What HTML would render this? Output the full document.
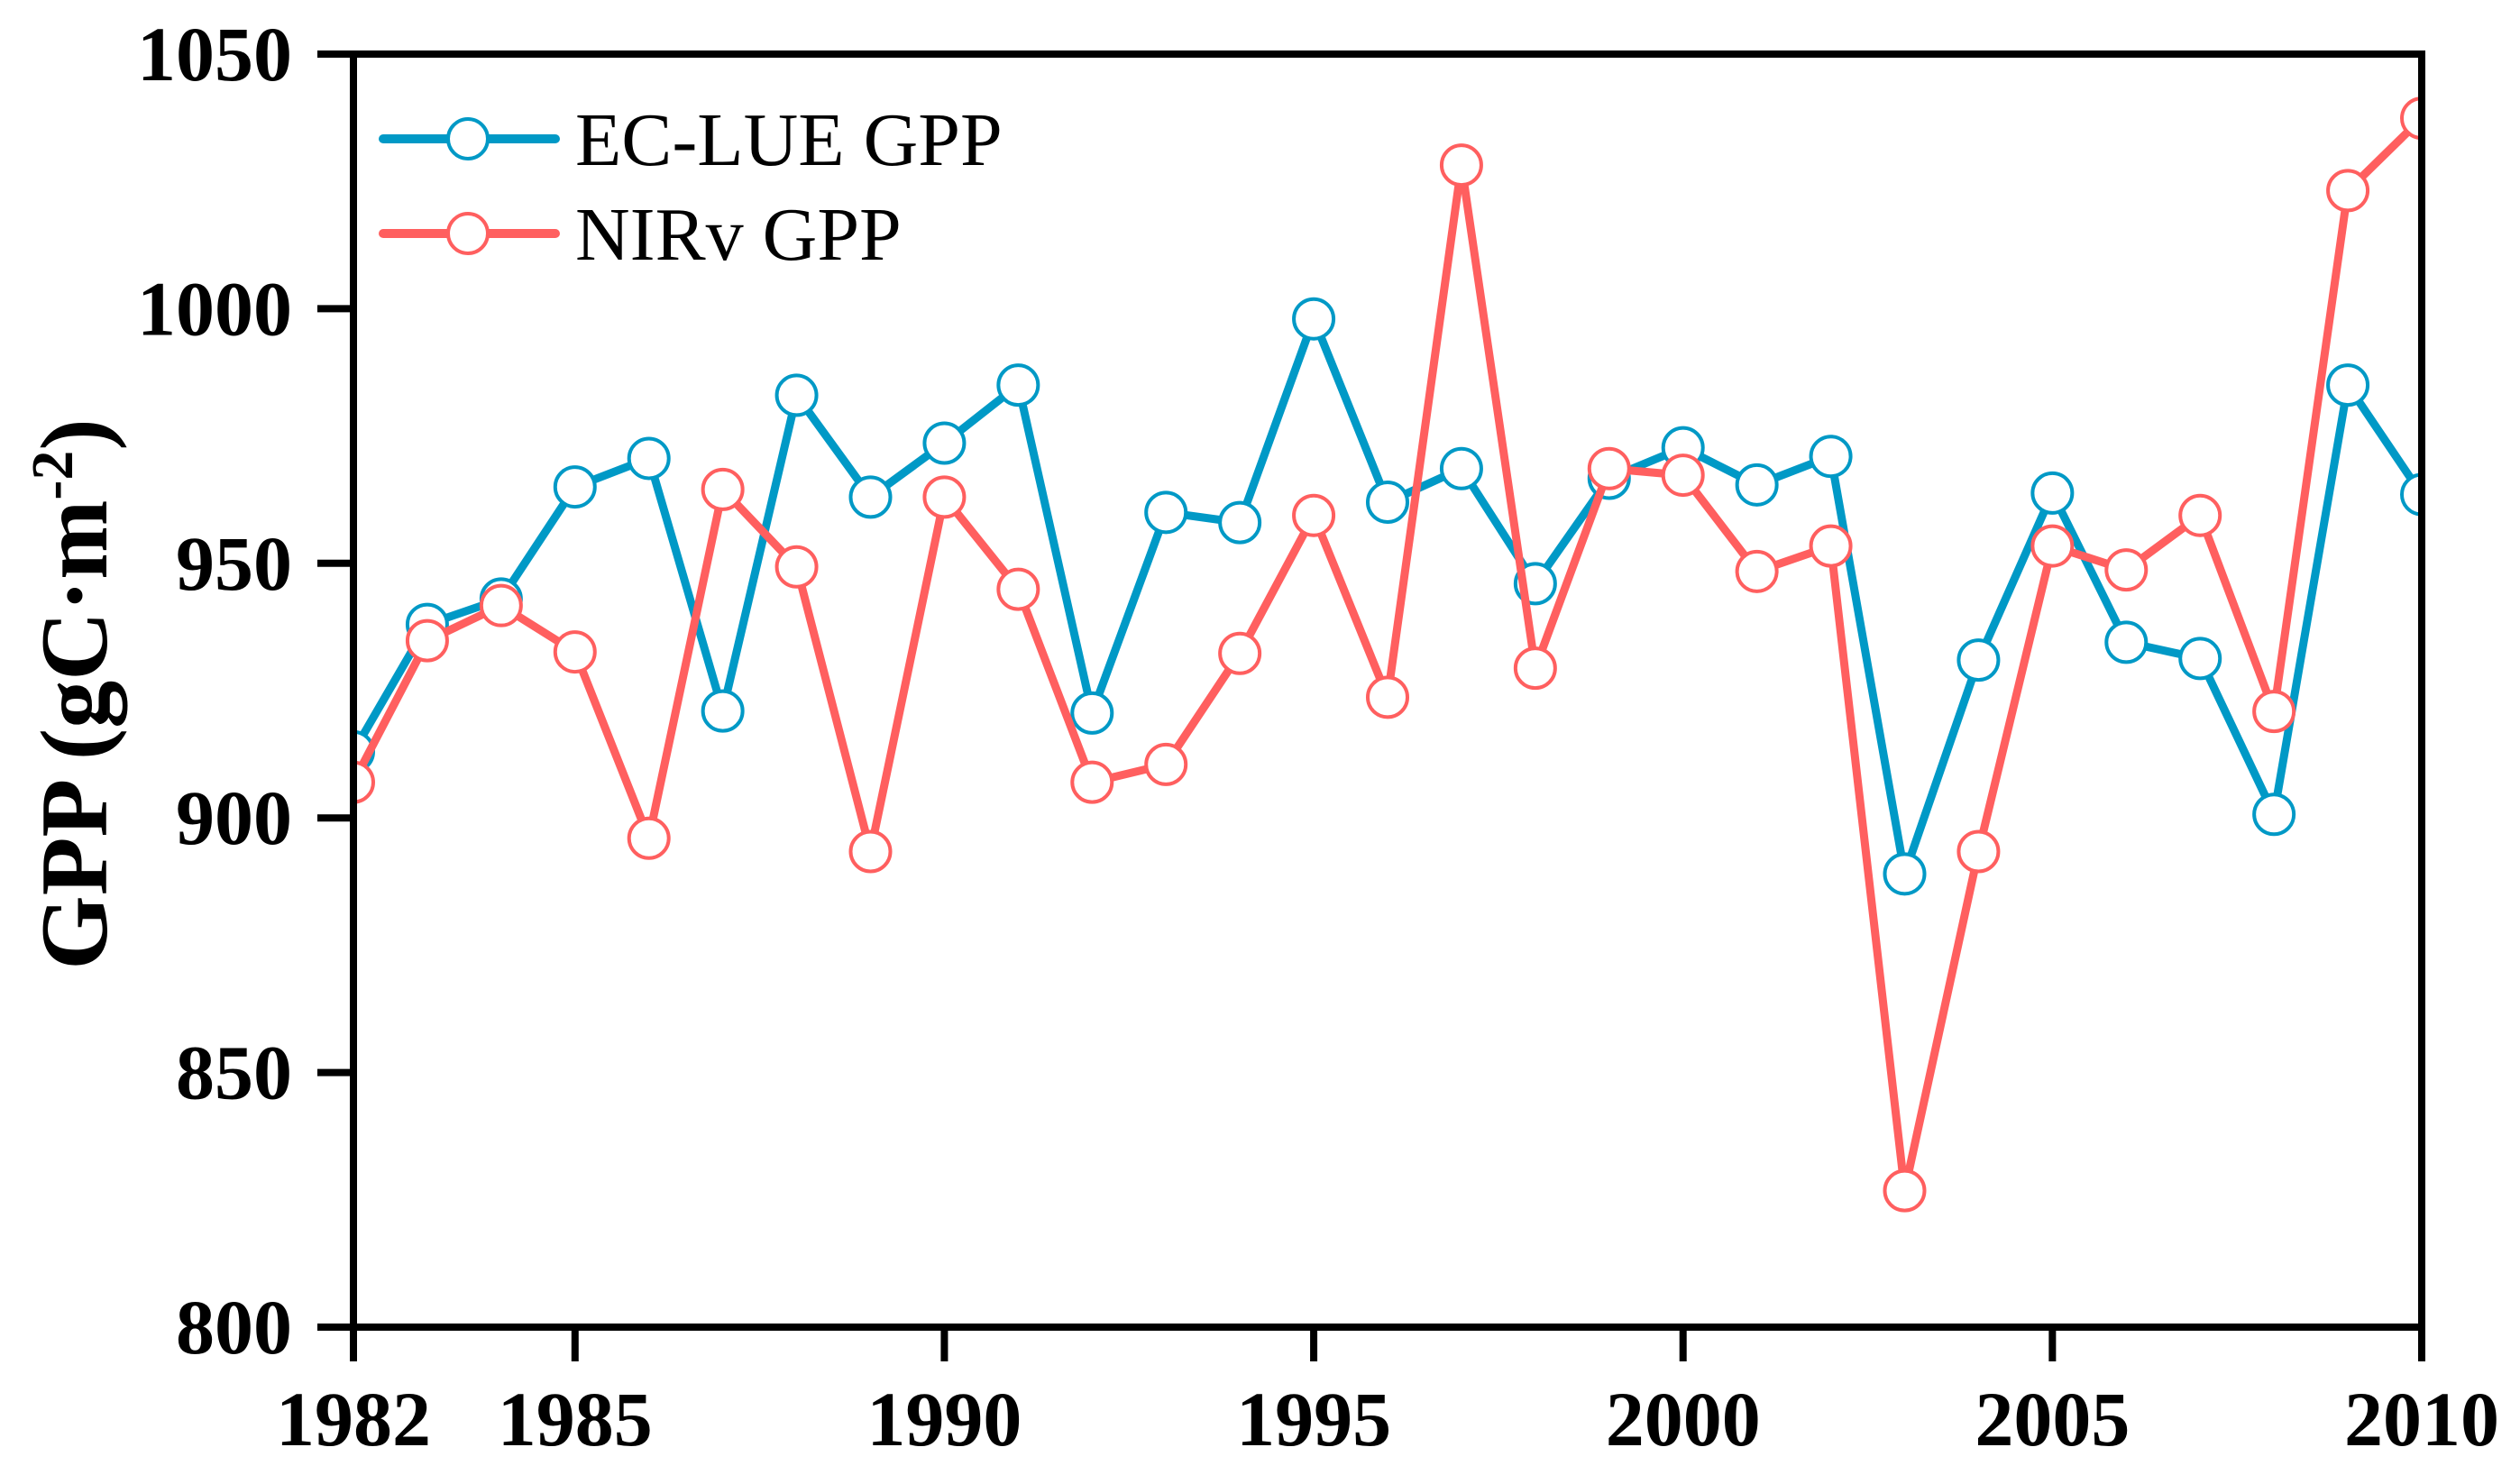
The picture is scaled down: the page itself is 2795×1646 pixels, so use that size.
<!DOCTYPE html>
<html><head><meta charset="utf-8"><style>
html,body{margin:0;padding:0;background:#fff;}
svg{display:block;font-family:"Liberation Serif",serif;}
</style></head><body>
<svg id="chart" width="2795" height="1646" viewBox="0 0 2795 1646" xmlns="http://www.w3.org/2000/svg">
<defs><clipPath id="plotclip"><rect x="392" y="60" width="2294" height="1412"/></clipPath></defs>
<g id="series" clip-path="url(#plotclip)"></g>
<g id="axes"></g>
<g id="legend"></g>
</svg>
<script>
const years = [1982,1983,1984,1985,1986,1987,1988,1989,1990,1991,1992,1993,1994,1995,1996,1997,1998,1999,2000,2001,2002,2003,2004,2005,2006,2007,2008,2009,2010];
const ecLue = [913,938,943,965,970.6,921,983,963,973.6,985,920.6,960,958,998,962,968.6,946,966.7,972.7,965.4,971,889,931,963.8,934.5,931.3,900.7,985,963.5];
const nirv = [907,934.8,941.7,932.6,896,964.5,949.3,893.4,963,944.9,907,910.5,932.3,959.4,923.7,1028.2,929.4,968.6,967.3,948.4,953.4,826.8,893.4,953.4,948.7,959.4,920.9,1023.2,1037.4];
const yTicks = [800,850,900,950,1000,1050];
const xTicks = [1982,1985,1990,1995,2000,2005,2010];

const NS='http://www.w3.org/2000/svg';
const X0=392,X1=2686,Y0=1472,Y1=60;
const xs=v=>X0+(v-1982)/(2010-1982)*(X1-X0);
const ys=v=>Y0-(v-800)/(1050-800)*(Y0-Y1);
function mk(tag,attrs,parent){const e=document.createElementNS(NS,tag);for(const k in attrs)e.setAttribute(k,attrs[k]);parent.appendChild(e);return e;}
const gS=document.getElementById('series'),gA=document.getElementById('axes'),gL=document.getElementById('legend');

function drawSeries(vals,color,name){
  const pts=years.map((y,i)=>xs(y)+','+ys(vals[i])).join(' ');
  const pl=mk('polyline',{points:pts,fill:'none',stroke:color,'stroke-width':9,'stroke-linejoin':'round'},gS);
  
  
  years.forEach((y,i)=>{
    const c=mk('circle',{cx:xs(y),cy:ys(vals[i]),r:22,fill:'#fff',stroke:color,'stroke-width':4},gS);
    
    
  });
}
drawSeries(ecLue,'#0099C6','ec-lue');
drawSeries(nirv,'#FF5F5F','nirv');

// frame
const fr=mk('rect',{x:X0,y:Y1,width:X1-X0,height:Y0-Y1,fill:'none',stroke:'#000','stroke-width':8},gA);


yTicks.forEach(v=>{
  const l=mk('line',{x1:X0-40,x2:X0,y1:ys(v),y2:ys(v),stroke:'#000','stroke-width':8},gA);
  
  
  const t=mk('text',{x:X0-68,y:ys(v)+29,'text-anchor':'end','font-size':86,'font-weight':'bold'},gA);
  t.textContent=v;
  
  
});
xTicks.forEach(v=>{
  const l=mk('line',{x1:xs(v),x2:xs(v),y1:Y0,y2:Y0+38,stroke:'#000','stroke-width':8},gA);
  
  
  const t=mk('text',{x:xs(v),y:1603,'text-anchor':'middle','font-size':86,'font-weight':'bold'},gA);
  t.textContent=v;
  
  
});
const yt=mk('text',{x:0,y:0,transform:'translate(118,770) rotate(-90)','text-anchor':'middle','font-size':106,'font-weight':'bold'},gA);
yt.innerHTML='GPP (gC·m<tspan dy="-38" font-size="66">-2</tspan><tspan dy="38">)</tspan>';



// legend
[['EC-LUE GPP','#0099C6',154,'legend-entry-ec-lue'],['NIRv GPP','#FF5F5F',259,'legend-entry-nirv']].forEach(([lab,col,y,nm])=>{
  const g=mk('g',{},gL);
  
  
  mk('line',{x1:425,x2:616,y1:y,y2:y,stroke:col,'stroke-width':10,'stroke-linecap':'round'},g);
  mk('circle',{cx:519,cy:y,r:22,fill:'#fff',stroke:col,'stroke-width':4},g);
  const t=mk('text',{x:638,y:y+29,'font-size':84},g);
  t.textContent=lab;
});
</script>
</body></html>
